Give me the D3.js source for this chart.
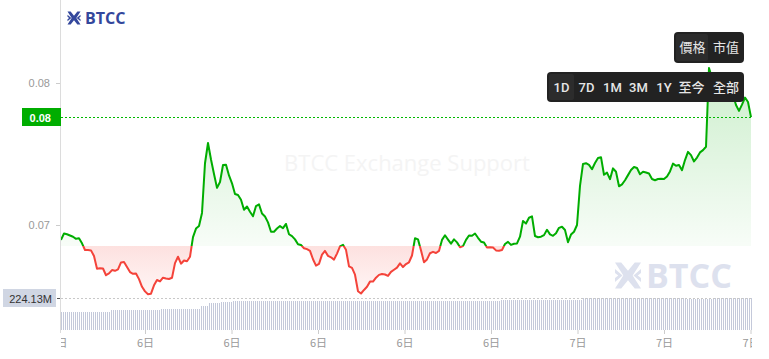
<!DOCTYPE html>
<html><head><meta charset="utf-8">
<script src="https://cdn.jsdelivr.net/npm/d3@7/dist/d3.min.js"></script>
<style>html,body{margin:0;padding:0;background:#fff;overflow:hidden}</style>
</head><body>
<svg id="c" width="769" height="359"></svg>
<script>
// ---------- DATA ----------
const prices = [
0.06916,0.06952,0.06948,0.06941,0.06934,0.06922,0.06925,0.06897,0.06859,0.06859,
0.06857,0.06825,0.06754,0.06756,0.06755,0.06717,0.06727,0.06746,0.06742,0.06750,
0.06789,0.06791,0.06763,0.06735,0.06725,0.06727,0.06695,0.06652,0.06626,0.06610,
0.06613,0.06660,0.06690,0.06682,0.06703,0.06699,0.06696,0.06703,0.06785,0.06821,
0.06782,0.06800,0.06796,0.06821,0.06932,0.06980,0.06994,0.07068,0.07348,0.07462,
0.07369,0.07287,0.07209,0.07242,0.07338,0.07339,0.07279,0.07235,0.07175,0.07169,
0.07142,0.07086,0.07104,0.07075,0.07049,0.07107,0.07116,0.07065,0.07048,0.07015,
0.06962,0.06962,0.06980,0.06994,0.06982,0.07006,0.06948,0.06937,0.06919,0.06891,
0.06887,0.06869,0.06864,0.06854,0.06807,0.06771,0.06781,0.06833,0.06854,0.06826,
0.06818,0.06805,0.06839,0.06879,0.06888,0.06860,0.06767,0.06758,0.06720,0.06627,
0.06614,0.06634,0.06652,0.06681,0.06681,0.06703,0.06719,0.06724,0.06721,0.06713,
0.06736,0.06748,0.06760,0.06784,0.06763,0.06780,0.06790,0.06828,0.06925,0.06919,
0.06857,0.06790,0.06806,0.06841,0.06849,0.06842,0.06854,0.06916,0.06942,0.06918,
0.06895,0.06919,0.06902,0.06875,0.06881,0.06916,0.06941,0.06939,0.06952,0.06928,
0.06906,0.06901,0.06873,0.06874,0.06873,0.06857,0.06855,0.06859,0.06893,0.06905,
0.06888,0.06894,0.06896,0.06934,0.07023,0.07008,0.07041,0.07049,0.06938,0.06931,
0.06934,0.06943,0.06973,0.06947,0.06939,0.06953,0.06984,0.06990,0.06972,0.06903,
0.06946,0.06962,0.07000,0.07220,0.07344,0.07348,0.07339,0.07314,0.07349,0.07378,
0.07382,0.07283,0.07295,0.07258,0.07319,0.07300,0.07218,0.07229,0.07252,0.07281,
0.07310,0.07327,0.07321,0.07286,0.07300,0.07296,0.07290,0.07259,0.07252,0.07259,
0.07261,0.07259,0.07273,0.07302,0.07346,0.07334,0.07338,0.07309,0.07366,0.07412,
0.07394,0.07358,0.07380,0.07409,0.07422,0.07441,0.07885,0.07828,0.07794,0.07778,
0.07794,0.07769,0.07772,0.07769,0.07732,0.07676,0.07643,0.07678,0.07718,0.07693,
0.07608];

const volumes = [
128,128,128,128,128,128,128,128,128,128,128,128,128,128,128,128,128,128,128,128,128,128,128,128,128,
140,140,140,140,140,140,140,140,140,140,140,140,140,140,140,140,140,140,140,140,140,140,140,140,140,
147,147,147,147,147,147,147,147,147,147,147,147,147,147,147,147,147,147,147,147,
168,168,168,168,
187,187,187,187,187,187,
196,196,196,196,196,196,
203,203,203,203,203,203,203,203,203,203,203,203,203,203,203,203,203,203,203,203,
203,203,203,203,203,203,203,203,203,203,203,203,203,203,203,203,203,203,203,203,
203,203,203,203,203,203,203,203,203,203,203,203,203,203,203,203,203,203,203,203,
203,203,203,203,203,203,203,203,203,203,203,203,203,203,203,203,203,203,203,203,
203,203,203,203,203,203,203,203,203,203,203,203,203,203,203,203,203,203,203,203,
203,203,203,203,203,203,203,203,203,203,203,203,203,203,203,203,203,203,203,203,
203,203,203,203,203,203,203,203,203,203,203,203,203,203,
212,212,212,212,212,212,212,212,212,212,212,212,212,212,212,212,212,212,212,212,
212,212,212,212,212,212,212,212,212,212,212,212,212,212,212,212,212,212,212,212,212,
222,222,222,222,222,222,222,222,222,222,222,222,222,222,222,222,222,222,222,222,
222,222,222,222,222,222,222,222,222,222,222,222,222,222,222,222,222,222,222,222,
222,222,222,222,222,222,222,222,222,222,222,
217,217,217,217,217,217,217,217,217,217,217,217,217,217,217,
222,222,222,222,222,222,222,222,222,222,222,222,222,222,222,222,222,222,222];

const startHour = 6.0867;   // 6日 06:05
const endHour = 30.0173;    // 7日 06:01
const openPrice = 0.06882;
const priceTickValues = [0.070, 0.078];
const priceTickLabels = ["0.07", "0.08"];
const volumeMax = 224.13;
const volumeMaxLabel = "224.13M";
const xTickHours = [6, 9, 12, 15, 18, 21, 24, 27, 30];
const xTickLabels = ["6日","6日","6日","6日","6日","6日","7日","7日","7日"];
const modeButtons = ["價格", "市值"];
const rangeButtons = ["1D","7D","1M","3M","1Y","至今","全部"];

// ---------- LAYOUT ----------
const L = 61, R = 751;
const GREEN = "#00ad00", RED = "#f4433a";
const svg = d3.select("#c");
const defs = svg.append("defs");

const x = d3.scaleLinear().domain([startHour, endHour]).range([L, R]);
const y = d3.scaleLinear().domain([0.070, 0.078]).range([225, 83]);
const yv = d3.scaleLinear().domain([0, volumeMax]).range([330, 298]);

const pts = prices.map((p, i) => ({t: startHour + i * (endHour - startHour) / (prices.length - 1), p}));
const vols = volumes.map((v, i) => ({t: startHour + i * (endHour - startHour) / (volumes.length - 1), v}));
const yBase = y(openPrice);

// watermark text
svg.append("text").attr("x", 407).attr("y", 171).attr("text-anchor", "middle")
  .attr("font-family", "Open Sans").attr("font-size", 22).attr("fill", "#f4f4f4")
  .text("BTCC Exchange Support");

// logo mark
function logo(g, cx, cy, s, color) {
  const h = s / 2, w = s * 0.2;
  g.append("path").attr("d",
    `M${cx-h},${cy-h} L${cx-h+w*1.2},${cy-h} L${cx},${cy-w*0.9} L${cx+h-w*1.2},${cy-h} L${cx+h},${cy-h}
     L${cx+w*0.9},${cy} L${cx+h},${cy+h} L${cx+h-w*1.2},${cy+h} L${cx},${cy+w*0.9} L${cx-h+w*1.2},${cy+h} L${cx-h},${cy+h}
     L${cx-w*0.9},${cy} Z`).attr("fill", color);
  g.append("path").attr("d",
    `M${cx-h},${cy-h*0.5} L${cx-h*0.42},${cy} L${cx-h},${cy+h*0.5} L${cx-h},${cy+h*0.2} L${cx-h*0.75},${cy} L${cx-h},${cy-h*0.2} Z
     M${cx+h},${cy-h*0.5} L${cx+h*0.42},${cy} L${cx+h},${cy+h*0.5} L${cx+h},${cy+h*0.2} L${cx+h*0.75},${cy} L${cx+h},${cy-h*0.2} Z`)
    .attr("fill", color);
}
const wm = svg.append("g");
logo(wm, 628, 275.5, 26, "#dde1ee");
wm.append("text").attr("x", 646).attr("y", 288).attr("font-family", "Open Sans").attr("font-weight", 700)
  .attr("font-size", 34).attr("fill", "#dde1ee").text("BTCC");

const tl = svg.append("g");
logo(tl, 74, 18, 13, "#33479c");
tl.append("text").attr("x", 85).attr("y", 24).attr("font-family", "Open Sans").attr("font-weight", 700)
  .attr("font-size", 16).attr("fill", "#33479c").text("BTCC");

// clip paths
defs.append("clipPath").attr("id", "above").append("rect")
  .attr("x", L).attr("y", 0).attr("width", R - L + 2).attr("height", yBase);
defs.append("clipPath").attr("id", "below").append("rect")
  .attr("x", L).attr("y", yBase).attr("width", R - L + 2).attr("height", 359 - yBase);
defs.append("clipPath").attr("id", "xlab").append("rect")
  .attr("x", L).attr("y", 0).attr("width", R - L + 1).attr("height", 29);

const gG = defs.append("linearGradient").attr("id", "gg").attr("gradientUnits", "userSpaceOnUse")
  .attr("x1", 0).attr("x2", 0).attr("y1", y(d3.max(prices))).attr("y2", yBase);
gG.append("stop").attr("offset", 0).attr("stop-color", GREEN).attr("stop-opacity", 0.2);
gG.append("stop").attr("offset", 1).attr("stop-color", GREEN).attr("stop-opacity", 0.03);
const gR = defs.append("linearGradient").attr("id", "gr").attr("gradientUnits", "userSpaceOnUse")
  .attr("x1", 0).attr("x2", 0).attr("y1", yBase).attr("y2", y(d3.min(prices)));
gR.append("stop").attr("offset", 0).attr("stop-color", RED).attr("stop-opacity", 0.16);
gR.append("stop").attr("offset", 1).attr("stop-color", RED).attr("stop-opacity", 0.05);

// volume bars
svg.append("g").attr("shape-rendering", "crispEdges").selectAll("rect").data(vols).join("rect")
  .attr("x", d => Math.round(x(d.t))).attr("width", 1)
  .attr("y", d => Math.round(yv(d.v))).attr("height", d => yv(0) - Math.round(yv(d.v)))
  .attr("fill", "#c4c9da");

// volume max line & badge
const vy = Math.round(yv(volumeMax)) + 0.5;
svg.append("line").attr("x1", L).attr("x2", R).attr("y1", vy).attr("y2", vy)
  .attr("stroke", "#c8c8c8").attr("stroke-dasharray", "2,2");
svg.append("rect").attr("x", 3).attr("y", vy - 9.5).attr("width", 53).attr("height", 18).attr("fill", "#d0d6e3");
svg.append("text").attr("x", 52).attr("y", vy + 4).attr("text-anchor", "end")
  .attr("font-family", "Liberation Sans").attr("font-size", 11).attr("fill", "#333").text(volumeMaxLabel);
svg.append("line").attr("x1", 57).attr("x2", L).attr("y1", vy).attr("y2", vy).attr("stroke", "#555");

// price areas and lines
const area = d3.area().x(d => x(d.t)).y0(yBase).y1(d => y(d.p));
const line = d3.line().x(d => x(d.t)).y(d => y(d.p));
[["above", "url(#gg)", GREEN], ["below", "url(#gr)", RED]].forEach(([c, f, s]) => {
  const g = svg.append("g").attr("clip-path", `url(#${c})`);
  g.append("path").datum(pts).attr("d", area).attr("fill", f);
  g.append("path").datum(pts).attr("d", line).attr("fill", "none").attr("stroke", s)
    .attr("stroke-width", 2).attr("stroke-linejoin", "round");
});

// y axis
svg.append("line").attr("x1", L - 0.5).attr("x2", L - 0.5).attr("y1", 0).attr("y2", 333).attr("stroke", "#dcdcdc");
const yAxis = d3.axisLeft(y).tickValues(priceTickValues).tickFormat((d, i) => priceTickLabels[i]).tickSize(4).tickPadding(6);
const ya = svg.append("g").attr("transform", `translate(${L - 1},0)`).call(yAxis);
ya.select(".domain").remove();
ya.selectAll("line").attr("stroke", "#ccc");
ya.selectAll("text").attr("fill", "#999").attr("font-family", "Liberation Sans").attr("font-size", 11);

// current price
const cur = prices[prices.length - 1];
const cy = Math.round(y(cur)) + 0.5;
svg.append("line").attr("x1", L).attr("x2", R).attr("y1", cy).attr("y2", cy)
  .attr("stroke", "#00b800").attr("stroke-dasharray", "2,2").attr("shape-rendering", "crispEdges");
svg.append("rect").attr("x", 22).attr("y", cy - 9.5).attr("width", 39).attr("height", 18).attr("fill", GREEN);
svg.append("text").attr("x", 51).attr("y", cy + 4).attr("text-anchor", "end")
  .attr("font-family", "Liberation Sans").attr("font-weight", 700).attr("font-size", 11).attr("fill", "#fff")
  .text(d3.format(".2f")(cur));

// x axis
const xAxis = d3.axisBottom(x).tickValues(xTickHours).tickFormat((d, i) => xTickLabels[i]).tickSize(4).tickPadding(5);
const xa = svg.append("g").attr("transform", "translate(0,330)").call(xAxis).attr("clip-path", "url(#xlab)");
xa.select(".domain").remove();
xa.selectAll("line").attr("stroke", "#ccc");
xa.selectAll("text").attr("fill", "#999").attr("font-family", "Noto Sans CJK SC").attr("font-size", 11);

// buttons
const bfont = "Roboto, 'Noto Sans CJK TC'";
const b1 = svg.append("g");
b1.append("rect").attr("x", 674).attr("y", 32).attr("width", 70).attr("height", 31).attr("rx", 4).attr("fill", "#222");
b1.append("rect").attr("x", 676).attr("y", 34).attr("width", 32).attr("height", 27).attr("rx", 2).attr("fill", "#2c2c2c");
const modeX = [692.5, 726];
modeButtons.forEach((t, i) => b1.append("text").attr("x", modeX[i]).attr("y", 52).attr("text-anchor", "middle")
  .attr("font-family", bfont).attr("font-size", 13).attr("fill", "#e6e6e6").text(t));
const b2 = svg.append("g");
b2.append("rect").attr("x", 547).attr("y", 72).attr("width", 197).attr("height", 30).attr("rx", 4).attr("fill", "#222");
b2.append("rect").attr("x", 549).attr("y", 74).attr("width", 25).attr("height", 26).attr("rx", 2).attr("fill", "#2c2c2c");
const rangeX = [561.5, 586.5, 612.5, 638.5, 664, 691.5, 726];
rangeButtons.forEach((t, i) => b2.append("text").attr("x", rangeX[i]).attr("y", 92).attr("text-anchor", "middle")
  .attr("font-family", bfont).attr("font-weight", 500).attr("font-size", 13).attr("fill", "#e6e6e6").text(t));
</script>
</body></html>
